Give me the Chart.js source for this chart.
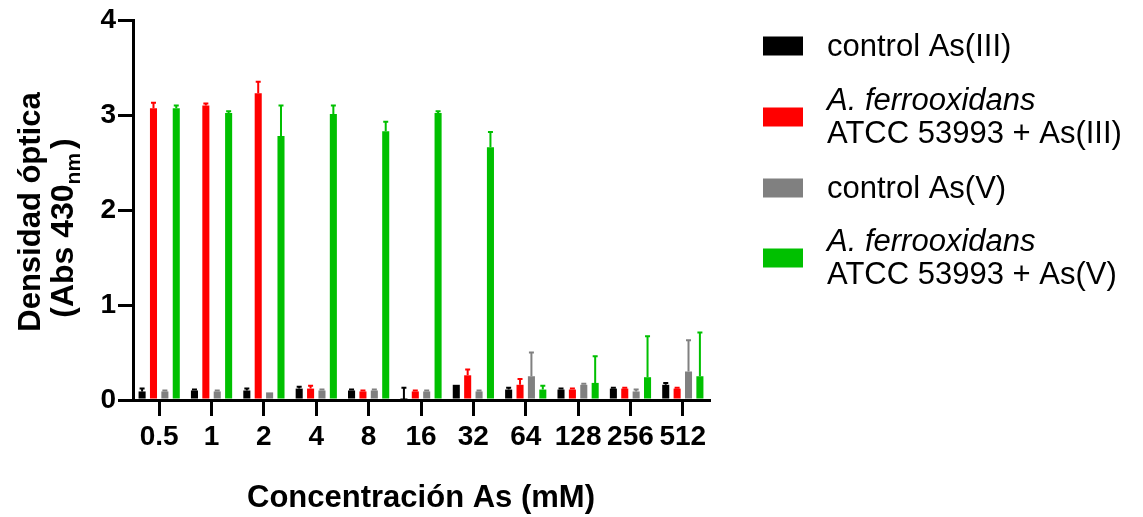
<!DOCTYPE html>
<html>
<head>
<meta charset="utf-8">
<script src="https://cdn.jsdelivr.net/npm/chart.js@4.4.1/dist/chart.umd.min.js"></script>
<style>
  html, body { margin: 0; padding: 0; background: #fff; }
  #wrap { position: relative; width: 1143px; height: 517px; }
</style>
</head>
<body>
<div id="wrap"><canvas id="c" width="1143" height="517"></canvas></div>
<script>
// Arsenic concentrations (mM)
const categories = ['0.5', '1', '2', '4', '8', '16', '32', '64', '128', '256', '512'];

// Optical density (Abs 430 nm), mean values
const controlAsIII = [0.09, 0.10, 0.10, 0.12, 0.10, 0.01, 0.16, 0.11, 0.11, 0.12, 0.16];
const ferroAsIII   = [3.07, 3.10, 3.23, 0.12, 0.09, 0.09, 0.26, 0.16, 0.11, 0.12, 0.12];
const controlAsV   = [0.09, 0.09, 0.08, 0.10, 0.10, 0.09, 0.09, 0.25, 0.16, 0.09, 0.30];
const ferroAsV     = [3.07, 3.02, 2.78, 3.01, 2.83, 3.02, 2.66, 0.11, 0.18, 0.24, 0.25];

// Standard deviations (drawn upward only)
const controlAsIIIErr = [0.03, 0.01, 0.02, 0.02, 0.01, 0.12, 0.00, 0.02, 0.01, 0.01, 0.02];
const ferroAsIIIErr   = [0.06, 0.02, 0.12, 0.03, 0.01, 0.01, 0.06, 0.06, 0.01, 0.01, 0.01];
const controlAsVErr   = [0.01, 0.01, 0.00, 0.01, 0.01, 0.01, 0.01, 0.25, 0.01, 0.02, 0.33];
const ferroAsVErr     = [0.03, 0.02, 0.32, 0.09, 0.10, 0.02, 0.16, 0.04, 0.28, 0.43, 0.46];

const yTicks = [0, 1, 2, 3, 4];

const COLORS = ['#000000', '#ff0000', '#808080', '#00c000'];
const FONT = '"Liberation Sans", Arial, Helvetica, sans-serif';

const legendEntries = [
  { color: COLORS[0], lines: [{ text: 'control As(III)', italic: false }] },
  { color: COLORS[1], lines: [{ text: 'A. ferrooxidans', italic: true }, { text: 'ATCC 53993 + As(III)', italic: false }] },
  { color: COLORS[2], lines: [{ text: 'control As(V)', italic: false }] },
  { color: COLORS[3], lines: [{ text: 'A. ferrooxidans', italic: true }, { text: 'ATCC 53993 + As(V)', italic: false }] }
];

const errorSets = [controlAsIIIErr, ferroAsIIIErr, controlAsVErr, ferroAsVErr];

// Upward error bars with small caps
const errorBars = {
  id: 'errorBars',
  afterDatasetsDraw(chart) {
    const ctx = chart.ctx;
    const yScale = chart.scales.y;
    chart.data.datasets.forEach((ds, di) => {
      const meta = chart.getDatasetMeta(di);
      const errs = errorSets[di];
      meta.data.forEach((el, i) => {
        const err = errs[i];
        if (!err) return;
        const yTop = yScale.getPixelForValue(ds.data[i] + err);
        ctx.save();
        ctx.strokeStyle = ds.backgroundColor;
        ctx.lineWidth = 2;
        ctx.beginPath();
        ctx.moveTo(el.x, el.y);
        ctx.lineTo(el.x, yTop);
        ctx.moveTo(el.x - 2.5, yTop);
        ctx.lineTo(el.x + 2.5, yTop);
        ctx.stroke();
        ctx.restore();
      });
    });
  }
};

// Axis titles and legend
const annotations = {
  id: 'annotations',
  afterDraw(chart) {
    const ctx = chart.ctx;
    const area = chart.chartArea;
    ctx.save();
    ctx.fillStyle = '#000';

    // x-axis title
    ctx.font = 'bold 31px ' + FONT;
    ctx.textAlign = 'center';
    ctx.textBaseline = 'middle';
    ctx.fillText('Concentración As (mM)', (area.left + area.right) / 2, 498);

    // y-axis title (two rotated lines, second with subscript)
    ctx.save();
    ctx.translate(31, 212);
    ctx.rotate(-Math.PI / 2);
    ctx.font = 'bold 31px ' + FONT;
    ctx.textAlign = 'center';
    ctx.textBaseline = 'middle';
    ctx.fillText('Densidad óptica', 0, 0);
    ctx.restore();

    ctx.save();
    ctx.translate(64, 228);
    ctx.rotate(-Math.PI / 2);
    ctx.textBaseline = 'middle';
    ctx.textAlign = 'left';
    const mainFont = 'bold 32px ' + FONT;
    const subFont = 'bold 21px ' + FONT;
    const gap = 4;
    ctx.font = mainFont;
    const w1 = ctx.measureText('(Abs 430').width;
    const w3 = ctx.measureText(')').width;
    ctx.font = subFont;
    const w2 = ctx.measureText('nm').width;
    let x = -(w1 + w2 + gap + w3) / 2;
    ctx.font = mainFont;
    ctx.fillText('(Abs 430', x, 0);
    x += w1;
    ctx.font = subFont;
    ctx.fillText('nm', x, 10);
    x += w2 + gap;
    ctx.font = mainFont;
    ctx.fillText(')', x, 0);
    ctx.restore();

    // legend
    const swX = 763, swW = 40, swH = 19, textX = 827, lineGap = 33;
    const centers = [46, 117, 188, 258];
    ctx.textAlign = 'left';
    ctx.textBaseline = 'middle';
    legendEntries.forEach((entry, k) => {
      const cy = centers[k];
      ctx.fillStyle = entry.color;
      ctx.fillRect(swX, cy - swH / 2, swW, swH);
      ctx.fillStyle = '#000';
      const n = entry.lines.length;
      entry.lines.forEach((ln, j) => {
        ctx.font = (ln.italic ? 'italic ' : '') + '31px ' + FONT;
        const ty = cy + (j - (n - 1) / 2) * lineGap;
        ctx.fillText(ln.text, textX, ty + 1);
      });
    });
    ctx.restore();
  }
};

const seriesNames = ['control As(III)', 'A. ferrooxidans ATCC 53993 + As(III)', 'control As(V)', 'A. ferrooxidans ATCC 53993 + As(V)'];
const seriesValues = [controlAsIII, ferroAsIII, controlAsV, ferroAsV];

new Chart(document.getElementById('c'), {
  type: 'bar',
  data: {
    labels: categories,
    datasets: seriesValues.map((vals, i) => ({
      label: seriesNames[i],
      data: vals,
      backgroundColor: COLORS[i],
      borderWidth: 0,
      categoryPercentage: 0.87,
      barPercentage: 0.62
    }))
  },
  plugins: [errorBars, annotations],
  options: {
    responsive: false,
    animation: false,
    layout: { padding: { left: 0, right: 434, top: 20, bottom: 0 } },
    plugins: { legend: { display: false }, tooltip: { enabled: false } },
    scales: {
      x: {
        grid: { offset: false, drawOnChartArea: false, drawTicks: true, tickLength: 16, lineWidth: 3, color: '#000' },
        border: { display: true, width: 3, color: '#000' },
        ticks: { color: '#000', font: { family: FONT, size: 28, weight: 'bold' }, padding: 4, maxRotation: 0, autoSkip: false },
        afterFit(scale) { scale.height = 117; }
      },
      y: {
        min: 0,
        max: 4,
        afterBuildTicks(scale) { scale.ticks = yTicks.map(v => ({ value: v })); },
        grid: { drawOnChartArea: false, drawTicks: true, tickLength: 15, lineWidth: 3, color: '#000' },
        border: { display: true, width: 3, color: '#000' },
        ticks: { color: '#000', font: { family: FONT, size: 28, weight: 'bold' }, padding: 2 },
        afterFit(scale) { scale.width = 133; }
      }
    }
  }
});
</script>
</body>
</html>
